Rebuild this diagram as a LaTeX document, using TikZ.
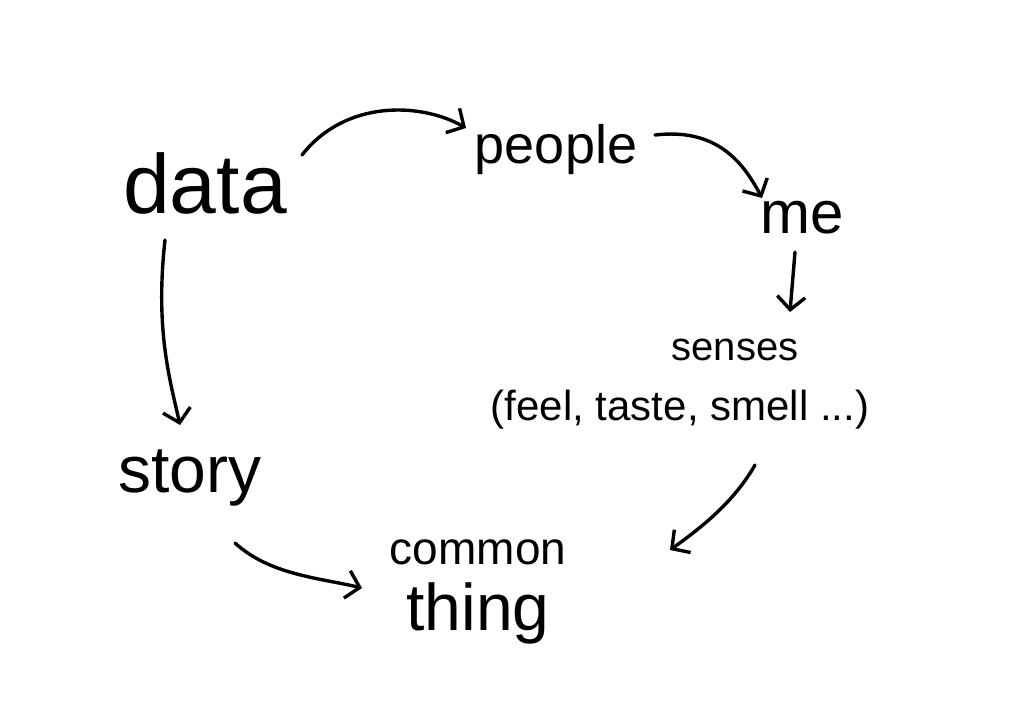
\documentclass[tikz,border=0pt]{standalone}
\usepackage{fontspec}
\setmainfont{Liberation Sans}
\usetikzlibrary{arrows.meta}
\begin{document}
\begin{tikzpicture}[x=1pt,y=-1pt,
  word/.style={inner sep=0pt, text=black},
  link/.style={line width=3.4pt, line cap=round, line join=round,
    -{Straight Barb[length=13pt,width=28pt,line width=3.4pt]}}]
\useasboundingbox (0,0) rectangle (1024,724);
\fill[white] (0,0) rectangle (1024,724);
\node[word, font=\fontsize{84}{90}\selectfont] (data) at (205,183) {data};
\node[word, font=\fontsize{54}{62}\selectfont] (people) at (556,150) {people};
\node[word, font=\fontsize{60}{66}\selectfont] (me) at (802,218) {me};
\node[word, font=\fontsize{40}{46}\selectfont] (senses) at (735,350) {senses};
\node[word, font=\fontsize{42}{48}\selectfont] (feel) at (680,410) {(feel, taste, smell ...)};
\node[word, font=\fontsize{66}{72}\selectfont] (story) at (190,478) {story};
\node[word, align=center] (common) at (478,592)
  {{\fontsize{46}{50}\selectfont common}\\[16pt]{\fontsize{66}{70}\selectfont thing}};
% connector ends, placed relative to their nodes
\coordinate (dR)  at ([shift={(97,-28)}]data.center);
\coordinate (dB)  at ([shift={(-40,57)}]data.center);
\coordinate (pL)  at ([shift={(-90,-22)}]people.center);
\coordinate (pR)  at ([shift={(99,-15)}]people.center);
\coordinate (mL)  at ([shift={(-40,-20)}]me.center);
\coordinate (mB)  at ([shift={(-7,34)}]me.center);
\coordinate (sT)  at ([shift={(55,-38)}]senses.center);
\coordinate (stT) at ([shift={(-10,-53)}]story.center);
\coordinate (stB) at ([shift={(45,65)}]story.center);
\coordinate (fB)  at ([shift={(75,55)}]feel.center);
\coordinate (cL)  at ([shift={(-116,-4)}]common.center);
\coordinate (cR)  at ([shift={(192,-42)}]common.center);
\draw[link] (dR) .. controls (345,100) and (420,102) .. (pL);
\draw[link] (pR) .. controls (715,128) and (742,160) .. (mL);
\draw[link] (mB) -- (sT);
\draw[link] (dB) .. controls (155,330) and (170,380) .. (stT);
\draw[link] (stB) .. controls (270,575) and (320,578) .. (cL);
\draw[link] (fB) .. controls (735,500) and (705,525) .. (cR);
\end{tikzpicture}
\end{document}
